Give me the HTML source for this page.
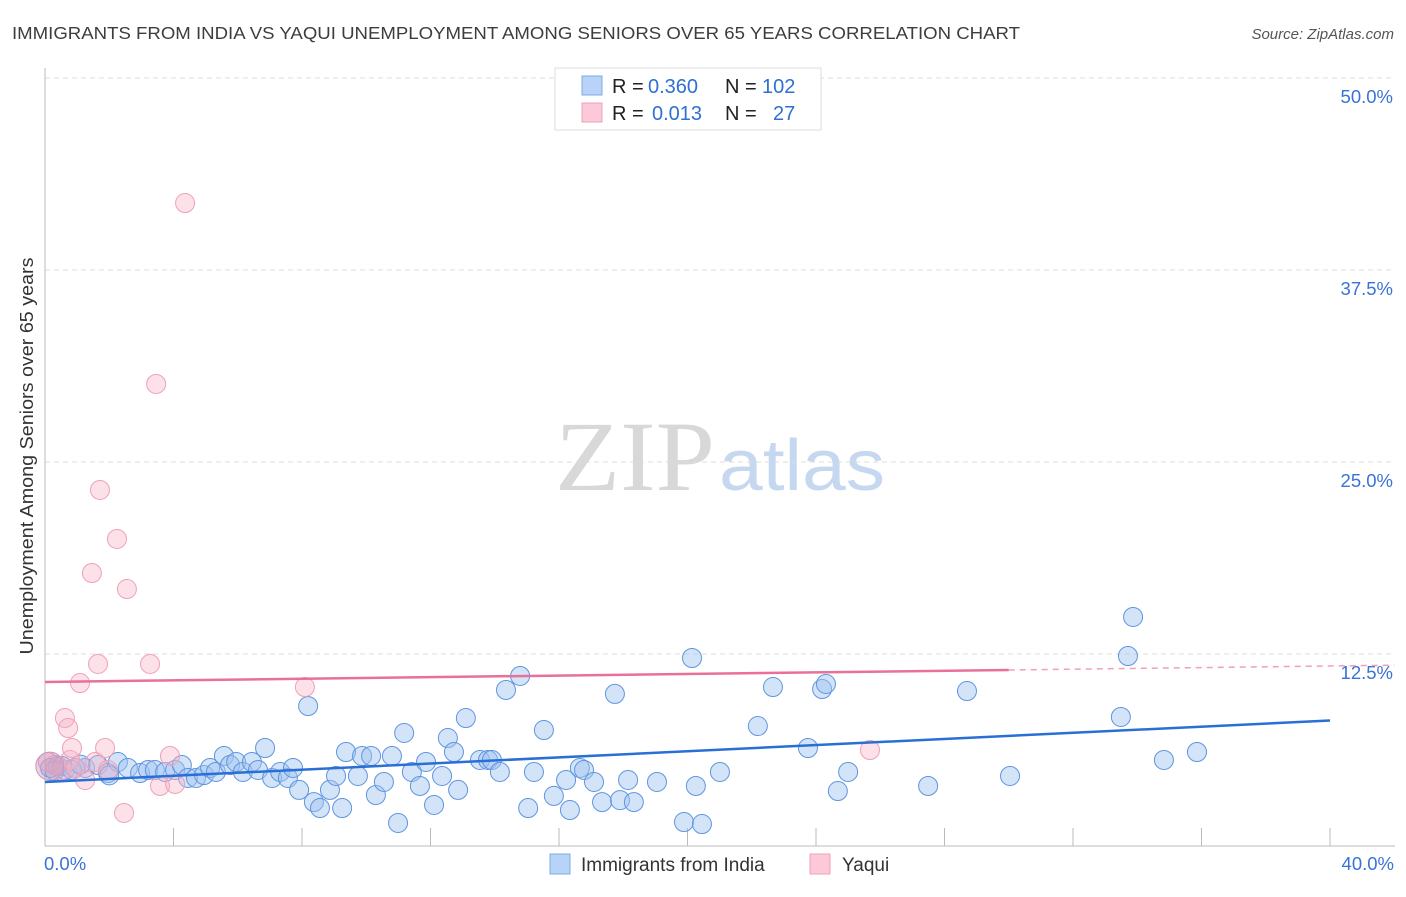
<!DOCTYPE html>
<html><head><meta charset="utf-8"><style>
body{margin:0;background:#fff;font-family:"Liberation Sans",sans-serif;}
</style></head><body>
<svg id="c" width="1406" height="892" xmlns="http://www.w3.org/2000/svg" font-family="Liberation Sans,sans-serif">
<text x="12" y="39" font-size="17.5" fill="#3d3d3d" textLength="1008" lengthAdjust="spacingAndGlyphs">IMMIGRANTS FROM INDIA VS YAQUI UNEMPLOYMENT AMONG SENIORS OVER 65 YEARS CORRELATION CHART</text>
<text x="1394" y="39" font-size="15" fill="#555" font-style="italic" text-anchor="end">Source: ZipAtlas.com</text>
<text x="0" y="0" transform="translate(33,456) rotate(-90)" font-size="18.5" fill="#333" text-anchor="middle" textLength="397" lengthAdjust="spacingAndGlyphs">Unemployment Among Seniors over 65 years</text>
<g>
<text x="635" y="490" font-size="100" fill="#d8d8d8" font-family="Liberation Serif,serif" text-anchor="middle" textLength="160" lengthAdjust="spacingAndGlyphs">ZIP</text>
<text x="802" y="490" font-size="72" fill="#c6d8f0" text-anchor="middle" textLength="166" lengthAdjust="spacingAndGlyphs">atlas</text>
</g>
<g id="grid"></g><g id="axes"></g><g id="pts"></g><g id="lines"></g>
<g>
<rect x="555" y="68" width="266" height="62" fill="#fff" stroke="#ddd"/>
<rect x="582" y="76" width="20" height="19" fill="#b8d3f7" stroke="#7ea9e6"/>
<rect x="582" y="103" width="20" height="19" fill="#fbc9d8" stroke="#f0a0b8"/>
<text x="612" y="93" font-size="20" fill="#222">R =</text>
<text x="648" y="93" font-size="20" fill="#2f6fd6">0.360</text>
<text x="725" y="93" font-size="20" fill="#222">N =</text>
<text x="762" y="93" font-size="20" fill="#2f6fd6">102</text>
<text x="612" y="120" font-size="20" fill="#222">R =</text>
<text x="652" y="120" font-size="20" fill="#2f6fd6">0.013</text>
<text x="725" y="120" font-size="20" fill="#222">N =</text>
<text x="773" y="120" font-size="20" fill="#2f6fd6">27</text>
</g>
<g>
<rect x="550" y="854" width="20" height="20" fill="#b8d3f7" stroke="#7ea9e6"/>
<text x="581" y="871" font-size="19" fill="#333">Immigrants from India</text>
<rect x="810" y="854" width="20" height="20" fill="#fbc9d8" stroke="#f0a0b8"/>
<text x="842" y="871" font-size="19" fill="#333">Yaqui</text>
</g>
</svg>
<script>
const yTicks=[12.5,25,37.5,50];
const yTickLabels=["12.5%","25.0%","37.5%","50.0%"];
const xTicks=[0,4,8,12,16,20,24,28,32,36,40];
const xTickLabels=["0.0%","40.0%"];
const indiaX=[0.16,0.4,0.62,0.93,1.25,1.65,1.96,2.27,2.58,2.96,3.21,3.42,3.74,4.05,4.26,4.45,4.7,4.95,5.14,5.32,5.57,5.76,5.95,6.16,6.44,6.63,6.85,7.07,7.32,7.56,7.72,7.91,8.19,8.37,8.56,8.87,9.06,9.25,9.37,9.74,9.87,10.15,10.3,10.55,10.8,10.99,11.18,11.42,11.67,11.86,12.11,12.36,12.54,12.73,12.86,13.1,13.54,13.79,13.91,14.16,14.35,14.79,15.04,15.22,15.53,15.84,16.22,16.34,16.65,16.78,17.09,17.34,17.74,17.9,18.15,18.33,19.05,19.89,20.26,20.45,20.14,21.01,22.19,22.66,23.75,24.19,24.31,24.68,25,27.49,28.7,30.04,33.49,33.71,33.87,34.83,35.86,0.53,0.84,1.1,0.3,2.0];
const indiaY=[5.08,5.21,4.95,5.08,5.08,5.27,4.75,5.47,5.08,4.75,4.95,4.95,4.82,4.95,5.27,4.43,4.43,4.62,5.08,4.82,5.86,5.27,5.47,4.82,5.47,4.95,6.38,4.43,4.82,4.43,5.08,3.65,9.11,2.86,2.47,3.65,4.56,2.47,6.12,4.56,5.86,5.86,3.32,4.17,5.86,1.5,7.36,4.82,3.91,5.47,2.67,4.56,7.03,6.12,3.65,8.33,5.6,5.6,5.6,4.82,10.16,11.07,2.47,4.82,7.55,3.26,4.3,2.34,5.08,4.95,4.17,2.86,9.9,2.99,4.3,2.86,4.17,1.56,3.91,1.43,12.24,4.82,7.81,10.35,6.38,10.22,10.55,3.58,4.82,3.91,10.09,4.56,8.4,12.37,14.91,5.6,6.12,5.21,4.95,5.3,4.9,4.6];
const yaquiX=[0.09,0.31,0.53,0.78,0.96,1.25,1.56,1.87,1.96,0.62,0.72,0.84,1.09,1.46,1.71,2.24,2.55,3.27,3.46,3.58,3.89,4.05,4.36,2.46,1.65,8.09,25.68];
const yaquiY=[5.47,5.27,4.95,5.6,5.08,4.3,5.47,6.38,4.95,8.33,7.68,6.38,10.61,17.77,23.18,19.99,16.73,11.85,30.08,3.91,5.86,4.04,41.86,2.15,11.85,10.35,6.25];
const indiaFit=[4.17,0.1];
const yaquiFit=[10.68,0.026];
const x0=45,x1=1330,yb=846,yt=78;
const X=v=>x0+v/40*(x1-x0);
const Y=v=>yb-v/50*(yb-yt);
const NS="http://www.w3.org/2000/svg";
function mk(p,t,a){const e=document.createElementNS(NS,t);for(const k in a)e.setAttribute(k,a[k]);p.appendChild(e);return e;}
const grid=document.getElementById('grid'),axes=document.getElementById('axes'),pts=document.getElementById('pts'),lines=document.getElementById('lines');
yTicks.forEach((t,i)=>{
 const l=mk(grid,'line',{x1:x0,x2:1395,y1:Y(t),y2:Y(t),stroke:'#dcdcdc','stroke-dasharray':'5,4'});
 
 
 const tx=mk(grid,'text',{x:1393,y:Y(t)+25,'font-size':18.5,fill:'#3a72d8','text-anchor':'end'});
 tx.textContent=yTickLabels[i];
 
 
});
const ya=mk(axes,'line',{x1:x0,x2:x0,y1:68,y2:yb,stroke:'#bbb'});


const xa=mk(axes,'line',{x1:x0,x2:1395,y1:yb,y2:yb,stroke:'#bbb'});


xTicks.forEach(t=>{
 const l=mk(axes,'line',{x1:X(t),x2:X(t),y1:yb-18,y2:yb,stroke:'#bbb'});
 
 
});
[[0,'start',44],[40,'end',1394]].forEach((d,i)=>{
 const tx=mk(axes,'text',{x:d[2],y:870,'font-size':18.5,fill:'#3a72d8','text-anchor':d[1]});
 tx.textContent=xTickLabels[i];
 
 
});
indiaX.forEach((v,i)=>{
 const c=mk(pts,'circle',{cx:X(v),cy:Y(indiaY[i]),r:9.5,fill:'rgba(160,196,240,0.45)',stroke:'#5e95e0','stroke-width':1});
 
 
});
yaquiX.forEach((v,i)=>{
 const c=mk(pts,'circle',{cx:X(v),cy:Y(yaquiY[i]),r:9.5,fill:'rgba(248,180,200,0.4)',stroke:'#f0a0b8','stroke-width':1});
 
 
});
const big=mk(pts,'circle',{cx:X(0.15),cy:Y(5.2),r:14,fill:'rgba(200,150,190,0.45)',stroke:'#c898c0'});


const bl=mk(lines,'line',{x1:X(0),y1:Y(indiaFit[0]),x2:X(40),y2:Y(indiaFit[0]+indiaFit[1]*40),stroke:'#2a6fd6','stroke-width':2.5});


const pl=mk(lines,'line',{x1:X(0),y1:Y(yaquiFit[0]),x2:X(30),y2:Y(yaquiFit[0]+yaquiFit[1]*30),stroke:'#e8709a','stroke-width':2.5});


const pd=mk(lines,'line',{x1:X(30),y1:Y(yaquiFit[0]+yaquiFit[1]*30),x2:X(42),y2:Y(yaquiFit[0]+yaquiFit[1]*42),stroke:'#f0a0b8','stroke-width':1.5,'stroke-dasharray':'6,5'});


</script>
</body></html>
